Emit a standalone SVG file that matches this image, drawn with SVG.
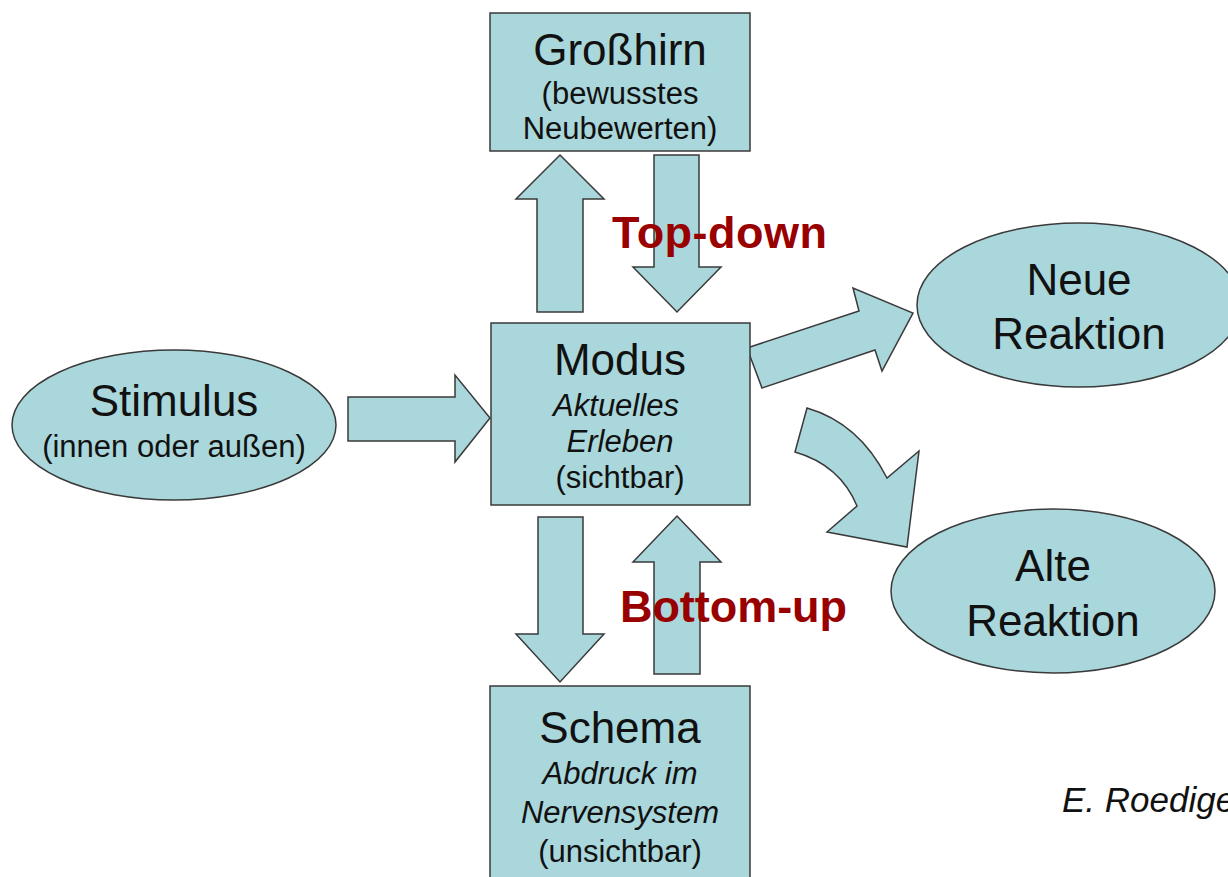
<svg xmlns="http://www.w3.org/2000/svg" width="1228" height="877" viewBox="0 0 1228 877">
<style>
.shape{fill:#AAD7DB;stroke:#3a3a3a;stroke-width:1.5;stroke-linejoin:miter}
.t{font-family:"Liberation Sans",Arial,sans-serif;fill:#111;text-anchor:middle}
.big{font-size:44px}
.sub{font-size:31px}
.it{font-style:italic}
.lbl{font-family:"Liberation Sans",Arial,sans-serif;font-weight:bold;font-size:45px;fill:#990000}
</style>
<rect width="1228" height="877" fill="#ffffff"/>
<g id="connectors">
<polygon class="shape" points="348,397 455,397 455,375 490,418 455,462 455,441 348,441"/>
<polygon class="shape" points="537,312 537,199 516,199 560,155 604,199 583,199 583,312"/>
<polygon class="shape" points="654,155 699,155 699,267 721,267 677,312 633,267 654,267"/>
<polygon class="shape" points="538,517 583,517 583,634 604,634 560,682 516,634 538,634"/>
<polygon class="shape" points="654,674 654,562 633,562 677,516 721,562 700,562 700,674"/>
<polygon class="shape" points="747,348 859,311 853,288 913,313 882,371 875,350 762,388"/>
<path class="shape" d="M807,408 Q859,423 887,478 L919,451 L907,547 L827,532 L857,506 Q840,465 795,452 Z"/>
</g>
<g id="grosshirn">
<rect class="shape" x="490" y="13" width="260" height="138"/>
<text class="t big" x="620" y="65">Großhirn</text>
<text class="t sub" x="620" y="104">(bewusstes</text>
<text class="t sub" x="620" y="139">Neubewerten)</text>
</g>
<g id="modus">
<rect class="shape" x="491" y="323" width="259" height="182"/>
<text class="t big" x="620" y="375">Modus</text>
<text class="t sub it" x="616" y="416">Aktuelles</text>
<text class="t sub it" x="620" y="452">Erleben</text>
<text class="t sub" x="620" y="488">(sichtbar)</text>
</g>
<g id="schema">
<rect class="shape" x="490" y="686" width="260" height="200"/>
<text class="t big" x="620" y="743">Schema</text>
<text class="t sub it" x="620" y="784">Abdruck im</text>
<text class="t sub it" x="620" y="823">Nervensystem</text>
<text class="t sub" x="620" y="862">(unsichtbar)</text>
</g>
<g id="stimulus">
<ellipse class="shape" cx="174" cy="425" rx="162" ry="75"/>
<text class="t big" x="174" y="416">Stimulus</text>
<text class="t sub" x="174" y="457">(innen oder außen)</text>
</g>
<g id="neue-reaktion">
<ellipse class="shape" cx="1079" cy="305" rx="162" ry="82"/>
<text class="t big" x="1079" y="295">Neue</text>
<text class="t big" x="1079" y="349">Reaktion</text>
</g>
<g id="alte-reaktion">
<ellipse class="shape" cx="1053" cy="591" rx="162" ry="82"/>
<text class="t big" x="1053" y="581">Alte</text>
<text class="t big" x="1053" y="636">Reaktion</text>
</g>
<g id="labels">
<text class="lbl" x="612" y="248" textLength="215">Top-down</text>
<text class="lbl" x="620" y="622" textLength="227">Bottom-up</text>
</g>
<g id="credit">
<text class="t it" x="1062" y="812" style="text-anchor:start;font-size:35px">E. Roediger</text>
</g>
</svg>
